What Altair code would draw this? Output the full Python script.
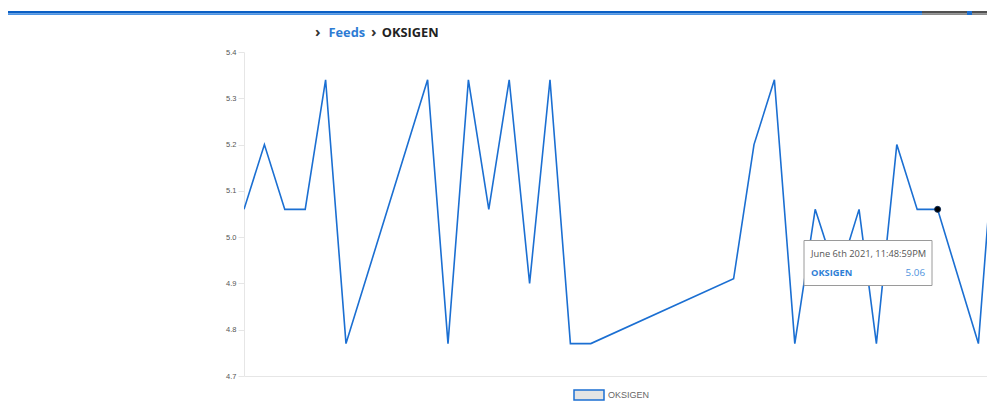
import altair as alt
import pandas as pd

# ---- data ----
times = [
    "2021-06-06T18:08:59", "2021-06-06T18:18:59", "2021-06-06T18:28:59", "2021-06-06T18:38:59",
    "2021-06-06T18:48:59", "2021-06-06T18:58:59", "2021-06-06T19:38:59", "2021-06-06T19:48:59",
    "2021-06-06T19:58:59", "2021-06-06T20:08:59", "2021-06-06T20:18:59", "2021-06-06T20:28:59",
    "2021-06-06T20:38:59", "2021-06-06T20:48:59", "2021-06-06T20:58:59", "2021-06-06T22:08:59",
    "2021-06-06T22:18:59", "2021-06-06T22:28:59", "2021-06-06T22:38:59", "2021-06-06T22:48:59",
    "2021-06-06T22:59:59", "2021-06-06T23:10:29", "2021-06-06T23:18:59", "2021-06-06T23:28:59",
    "2021-06-06T23:38:59", "2021-06-06T23:48:59", "2021-06-07T00:08:59", "2021-06-07T00:18:59",
]
values = [
    5.06, 5.20, 5.06, 5.06,
    5.34, 4.77, 5.34, 4.77,
    5.34, 5.06, 5.34, 4.90,
    5.34, 4.77, 4.77, 4.91,
    5.20, 5.34, 4.77, 5.06,
    4.91, 5.06, 4.77, 5.20,
    5.06, 5.06, 4.77, 5.34,
]
series_name = "OKSIGEN"
y_ticks = [4.7, 4.8, 4.9, 5.0, 5.1, 5.2, 5.3, 5.4]
highlight_time = "2021-06-06T23:48:59"
highlight_value = 5.06
tooltip_title = "June 6th 2021, 11:48:59PM"
breadcrumb = ["›", "Feeds", "›", "OKSIGEN"]

LINE_BLUE = "#1b6fd2"

df = pd.DataFrame({"time": times, "value": values, "series": series_name})
hl = pd.DataFrame({"time": [highlight_time], "value": [highlight_value]})

x_scale = alt.Scale(
    domain=[
        alt.DateTime(year=2021, month=6, date=6, hours=18, minutes=8, seconds=59),
        alt.DateTime(year=2021, month=6, date=7, hours=0, minutes=13, seconds=12),
    ]
)
y_scale = alt.Scale(domain=[4.7, 5.4], nice=False, zero=False)

x_enc = alt.X(
    "time:T", scale=x_scale, title=None,
    axis=alt.Axis(labels=False, ticks=False, grid=False, domainColor="#e6e6e6", domainWidth=1),
)
y_enc = alt.Y(
    "value:Q", scale=y_scale, title=None,
    axis=alt.Axis(
        values=y_ticks, format=".1f", grid=False, labelFlush=False,
        labelFontSize=7.5, labelColor="#555555", labelFont="Liberation Sans", labelPadding=2,
        tickColor="#e6e6e6", tickSize=6, domainColor="#e6e6e6",
    ),
)

line = alt.Chart(df).mark_line(strokeWidth=1.6, clip=True).encode(
    x=x_enc,
    y=y_enc,
    color=alt.Color(
        "series:N",
        scale=alt.Scale(range=[LINE_BLUE]),
        legend=alt.Legend(
            title=None, orient="none", legendX=329, legendY=327,
            symbolType="M-1,-0.333H1V0.333H-1Z", symbolSize=900,
            symbolFillColor="#e4e4e4", symbolStrokeColor=LINE_BLUE, symbolStrokeWidth=1.5,
            labelFontSize=9, labelColor="#666666", labelFont="Liberation Sans", labelOffset=3,
        ),
    ),
)

point = alt.Chart(hl).mark_point(filled=True, color="#000000", size=36, stroke="#0b2a55", strokeWidth=1, opacity=1).encode(
    x=alt.X("time:T", scale=x_scale), y=alt.Y("value:Q", scale=y_scale)
)

one = alt.Data(values=[{}])


def rect(x, x2, y, y2, fill, stroke=None):
    kw = dict(fill=fill)
    if stroke:
        kw.update(stroke=stroke, strokeWidth=1)
    return alt.Chart(one).mark_rect(**kw).encode(
        x=alt.value(x), x2=alt.value(x2), y=alt.value(y), y2=alt.value(y2)
    )


def text(t, x, y, color, size, weight="normal", font="Open Sans", align="left"):
    return alt.Chart(one).mark_text(
        text=t, color=color, fontSize=size, fontWeight=weight, font=font, align=align, baseline="middle"
    ).encode(x=alt.value(x), y=alt.value(y))


# top header bar
top_bar = [
    rect(-236, 678, -41, -38.5, "#0b5fc4"),
    rect(-236, 678, -38.5, -37, "#4c93e3"),
    rect(678, 743, -41, -38.5, "#505050"),
    rect(678, 743, -38.5, -37, "#8a8a8a"),
    rect(723, 728, -41, -37, "#1b6fd2"),
]

# breadcrumb
crumbs = [
    text(breadcrumb[0], 71, -20, "#333333", 15, "bold"),
    text(breadcrumb[1], 84.5, -19, "#2d7bd4", 12.8, "bold"),
    text(breadcrumb[2], 127, -20, "#333333", 15, "bold"),
    text(breadcrumb[3], 137.8, -19, "#222222", 12.8, "bold"),
]

# static tooltip at highlighted point
tooltip = [
    rect(560, 688, 188.5, 233.5, "#ffffff", "#9a9a9a"),
    text(tooltip_title, 567, 202, "#555555", 9.3),
    text(series_name, 567, 220.5, "#2f7fd6", 9.3, "bold"),
    text(f"{highlight_value:.2f}", 681, 220.5, "#4d92dd", 9.8, align="right"),
]

chart = alt.layer(line, point, *top_bar, *crumbs, *tooltip).properties(
    width=743,
    height=324,
    padding={"left": 236, "top": 44, "right": 0, "bottom": 25},
    autosize=alt.AutoSizeParams(type="none"),
).configure_view(strokeWidth=0)

chart.save("out.html", embed_options={"renderer": "svg", "actions": False})
